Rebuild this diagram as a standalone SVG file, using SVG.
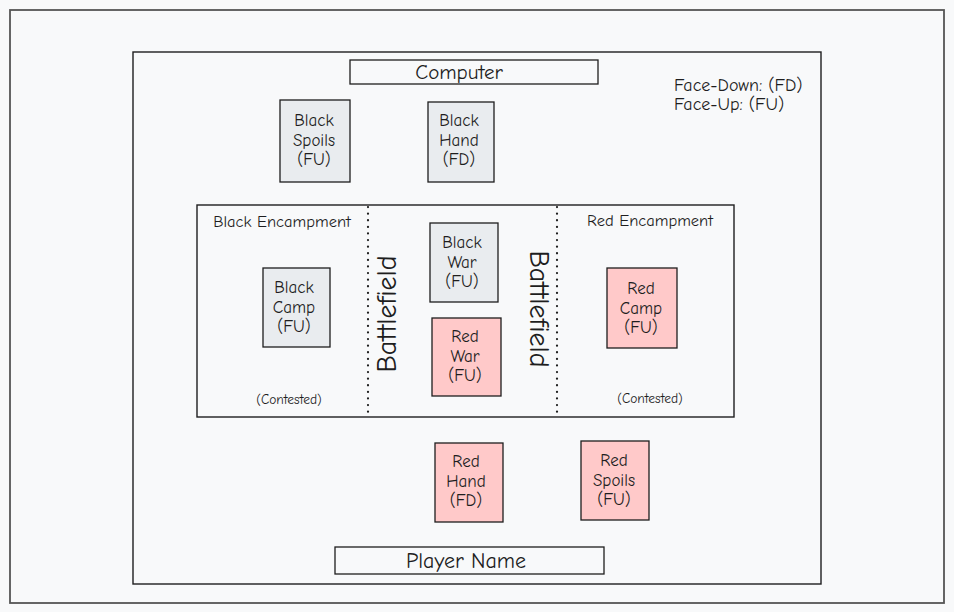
<svg xmlns="http://www.w3.org/2000/svg" width="954" height="612" viewBox="0 0 954 612">
<style>
.frame{fill:none;stroke:#1e1e1e;stroke-width:1.4}
.outer{fill:none;stroke:#555;stroke-width:1.8}
.card{stroke:#1e1e1e;stroke-width:1.3}
.gray{fill:#e9ecef}
.red{fill:#ffc9c9}
.bar{fill:#f8f9fa;stroke:#1e1e1e;stroke-width:1.3}
.dot{stroke:#1e1e1e;stroke-width:2.2;stroke-dasharray:0.1 6.5;stroke-linecap:round;fill:none}
text{font-family:"Comic Neue","Liberation Sans",sans-serif;fill:#1e1e1e}
.t{font-size:17px;text-anchor:middle}
.lbl{font-size:16.5px;text-anchor:middle}
.sm{font-size:13.5px;text-anchor:middle}
.bf{font-size:28px;text-anchor:middle}
</style>
<rect width="954" height="612" fill="#f8f9fa"/>
<g id="outer-frame"><rect class="outer" x="10" y="10" width="934" height="593"/></g>
<g id="board"><rect class="frame" x="133" y="52" width="688" height="532"/></g>
<g id="computer"><rect class="bar" x="350" y="60" width="248" height="24"/><text x="459" y="79" font-size="21" text-anchor="middle">Computer</text></g>
<g id="legend"><text x="674" y="91" font-size="18">Face-Down: (FD)</text><text x="674" y="110" font-size="18">Face-Up: (FU)</text></g>
<g id="black-spoils"><rect class="card gray" x="280" y="100" width="70" height="82"/><text class="t" x="314" y="126">Black</text><text class="t" x="314" y="146">Spoils</text><text class="t" x="314" y="165">(FU)</text></g>
<g id="black-hand"><rect class="card gray" x="428" y="102" width="66" height="80"/><text class="t" x="459" y="126">Black</text><text class="t" x="459" y="146">Hand</text><text class="t" x="459" y="165">(FD)</text></g>
<g id="encampments"><rect class="frame" x="197" y="205" width="537" height="212"/>
<text class="lbl" x="282" y="227">Black Encampment</text><text class="lbl" x="650" y="226">Red Encampment</text>
<text class="sm" x="289" y="404">(Contested)</text><text class="sm" x="650" y="403">(Contested)</text></g>
<g id="connectors"><line class="dot" x1="368" y1="207" x2="368" y2="416"/><line class="dot" x1="557" y1="207" x2="557" y2="416"/></g>
<g id="battlefield-left"><text class="bf" transform="translate(396 314) rotate(-90)">Battlefield</text></g>
<g id="battlefield-right"><text class="bf" transform="translate(530 309) rotate(90)">Battlefield</text></g>
<g id="black-camp"><rect class="card gray" x="263" y="268" width="67" height="79"/><text class="t" x="294" y="293">Black</text><text class="t" x="294" y="313">Camp</text><text class="t" x="294" y="332">(FU)</text></g>
<g id="black-war"><rect class="card gray" x="430" y="223" width="68" height="79"/><text class="t" x="462" y="248">Black</text><text class="t" x="462" y="268">War</text><text class="t" x="462" y="287">(FU)</text></g>
<g id="red-war"><rect class="card red" x="432" y="318" width="69" height="78"/><text class="t" x="465" y="342">Red</text><text class="t" x="465" y="362">War</text><text class="t" x="465" y="381">(FU)</text></g>
<g id="red-camp"><rect class="card red" x="607" y="268" width="70" height="80"/><text class="t" x="641" y="294">Red</text><text class="t" x="641" y="314">Camp</text><text class="t" x="641" y="333">(FU)</text></g>
<g id="red-hand"><rect class="card red" x="435" y="443" width="68" height="79"/><text class="t" x="466" y="467">Red</text><text class="t" x="466" y="487">Hand</text><text class="t" x="466" y="506">(FD)</text></g>
<g id="red-spoils"><rect class="card red" x="581" y="441" width="68" height="79"/><text class="t" x="614" y="466">Red</text><text class="t" x="614" y="486">Spoils</text><text class="t" x="614" y="505">(FU)</text></g>
<g id="player-name"><rect class="bar" x="335" y="547" width="269" height="27"/><text x="466" y="568" font-size="22" text-anchor="middle">Player Name</text></g>
</svg>
